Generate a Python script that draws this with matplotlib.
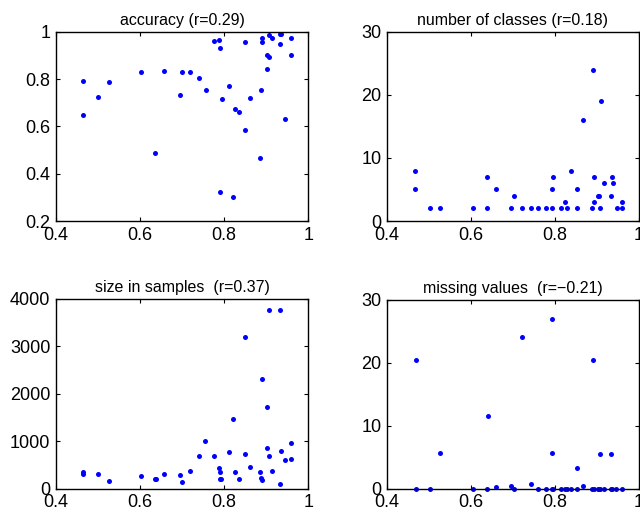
import matplotlib
matplotlib.use("Agg")
import matplotlib.pyplot as plt
from matplotlib.ticker import FuncFormatter

plt.rcParams['font.family'] = ['Liberation Sans', 'DejaVu Sans']

# accuracy
x_acc = [.465, .464, .501, .525, .602, .636, .656, .696, .700, .719, .740, .756,
         .777, .789, .790, .794, .790, .812, .821, .827, .836, .850, .850, .862,
         .885, .888, .889, .889, .901, .903, .907, .906, .915, .932, .936, .934,
         .944, .958, .958]
y_acc = [.794, .649, .725, .790, .832, .488, .834, .731, .831, .831, .807, .753,
         .962, .966, .931, .715, .324, .770, .301, .673, .663, .959, .583, .721,
         .466, .753, .973, .959, .901, .841, .894, .987, .976, .993, .989, .949,
         .630, .973, .901]

# number of classes
x_cls = [.467, .467, .503, .527, .604, .638, .638, .659, .696, .703, .721, .742,
         .759, .780, .792, .792, .796, .815, .823, .830, .839, .852, .853, .866,
         .888, .891, .893, .893, .904, .906, .908, .911, .917, .934, .937, .939,
         .947, .961, .961]
y_cls = [8, 5, 2, 2, 2, 7, 2, 5, 2, 4, 2, 2,
         2, 2, 2, 5, 7, 2, 3, 2, 8, 2, 5, 16,
         2, 24, 7, 3, 4, 4, 2, 19, 6, 4, 7, 6,
         2, 3, 2]

# size in samples
x_size = [.464, .465, .501, .525, .602, .636, .637, .656, .696, .700, .718, .740,
          .755, .777, .789, .790, .790, .793, .812, .820, .827, .836, .849, .849,
          .862, .885, .887, .889, .889, .901, .903, .906, .906, .914, .932, .936,
          .934, .944, .958, .958]
y_size = [351, 309, 309, 162, 274, 204, 204, 309, 289, 148, 373, 689,
          997, 696, 443, 352, 211, 211, 774, 1470, 352, 204, 3190, 738,
          458, 344, 232, 183, 2305, 1729, 850, 689, 3760, 373, 3760, 801,
          105, 611, 955, 633]

# missing values
x_miss = [.468, .468, .503, .527, .604, .638, .640, .659, .696, .703, .721, .743,
          .759, .780, .792, .792, .792, .796, .815, .824, .830, .838, .852, .853,
          .866, .888, .891, .893, .904, .906, .908, .908, .918, .934, .934, .937,
          .946, .961]
y_miss = [20.5, 0, 0, 5.7, 0, 0, 11.5, 0.27, 0.4, 0, 24.0, 0.69,
          0, 0, 26.9, 5.66, 0, 0, 0, 0, 0, 0, 0, 3.23,
          0.37, 0, 20.4, 0, 0, 0, 5.45, 0, 0, 5.45, 0, 0,
          0, 0]

panels = [
    (x_acc, y_acc, 'accuracy (r=0.29)', (0.2, 1), [0.2, 0.4, 0.6, 0.8, 1]),
    (x_cls, y_cls, 'number of classes (r=0.18)', (0, 30), [0, 10, 20, 30]),
    (x_size, y_size, 'size in samples  (r=0.37)', (0, 4000), [0, 1000, 2000, 3000, 4000]),
    (x_miss, y_miss, 'missing values  (r=\u22120.21)', (0, 30), [0, 10, 20, 30]),
]

# axes boxes in figure fractions (left, bottom, width, height)
boxes = [
    (0.0875, 0.570, 0.394, 0.368),
    (0.605, 0.570, 0.393, 0.368),
    (0.0875, 0.049, 0.394, 0.370),
    (0.605, 0.049, 0.393, 0.368),
]

fig = plt.figure(figsize=(6.4, 5.14), dpi=100)
fmt = FuncFormatter(lambda v, p: '%g' % v)

for (x, y, title, ylim, yt), box in zip(panels, boxes):
    ax = fig.add_axes(box)
    ax.plot(x, y, 'o', color='#0000ff', markersize=3.6, markeredgewidth=0,
            clip_on=False)
    ax.set_xlim(0.4, 1)
    ax.set_ylim(*ylim)
    ax.set_xticks([0.4, 0.6, 0.8, 1])
    ax.set_yticks(yt)
    ax.xaxis.set_major_formatter(fmt)
    ax.yaxis.set_major_formatter(fmt)
    ax.tick_params(direction='in', top=True, right=True, length=3,
                   width=0.8, labelsize=13)
    ax.tick_params(axis='x', pad=4)
    ax.tick_params(axis='y', pad=4)
    for s in ax.spines.values():
        s.set_linewidth(1.0)
    ax.set_title(title, fontsize=11.5, pad=5)

fig.savefig('out.png', dpi=100)
